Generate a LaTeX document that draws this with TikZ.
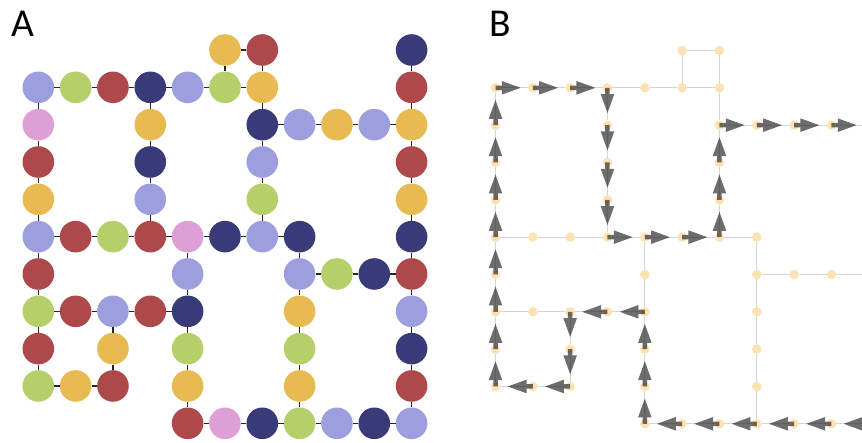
\documentclass[tikz,border=0pt]{standalone}
\usepackage{fontspec}
\setmainfont{Carlito}
\usetikzlibrary{arrows.meta}
\definecolor{cnavy}{HTML}{393B79}
\definecolor{cgreen}{HTML}{B5CF6B}
\definecolor{cyellow}{HTML}{E7BA52}
\definecolor{cred}{HTML}{AD494A}
\definecolor{cpink}{HTML}{DE9ED6}
\definecolor{clav}{HTML}{9C9EDE}
\definecolor{cspot}{HTML}{FFC56A}
% beads: column/row/colour
\newcommand{\beads}{5/0/cyellow, 6/0/cred, 10/0/cnavy,
  0/1/clav, 1/1/cgreen, 2/1/cred, 3/1/cnavy, 4/1/clav, 5/1/cgreen, 6/1/cyellow, 10/1/cred,
  0/2/cpink, 3/2/cyellow, 6/2/cnavy, 7/2/clav, 8/2/cyellow, 9/2/clav, 10/2/cyellow,
  0/3/cred, 3/3/cnavy, 6/3/clav, 10/3/cred,
  0/4/cyellow, 3/4/clav, 6/4/cgreen, 10/4/cyellow,
  0/5/clav, 1/5/cred, 2/5/cgreen, 3/5/cred, 4/5/cpink, 5/5/cnavy, 6/5/clav, 7/5/cnavy, 10/5/cnavy,
  0/6/cred, 4/6/clav, 7/6/clav, 8/6/cgreen, 9/6/cnavy, 10/6/cred,
  0/7/cgreen, 1/7/cred, 2/7/clav, 3/7/cred, 4/7/cnavy, 7/7/cyellow, 10/7/clav,
  0/8/cred, 2/8/cyellow, 4/8/cgreen, 7/8/cgreen, 10/8/cnavy,
  0/9/cgreen, 1/9/cyellow, 2/9/cred, 4/9/cyellow, 7/9/cyellow, 10/9/cred,
  4/10/cred, 5/10/cpink, 6/10/cnavy, 7/10/cgreen, 8/10/clav, 9/10/cnavy, 10/10/clav}
% bonds to the right of / below a bead
\newcommand{\hbonds}{5/0, 0/1, 1/1, 2/1, 3/1, 4/1, 5/1, 6/2, 7/2, 8/2, 9/2,
  0/5, 1/5, 2/5, 3/5, 4/5, 5/5, 6/5, 7/6, 8/6, 9/6, 0/7, 1/7, 2/7, 3/7,
  0/9, 1/9, 4/10, 5/10, 6/10, 7/10, 8/10, 9/10}
\newcommand{\vbonds}{0/1, 0/2, 0/3, 0/4, 0/5, 0/6, 0/7, 0/8, 2/7, 2/8,
  3/1, 3/2, 3/3, 3/4, 4/5, 4/6, 4/7, 4/8, 4/9, 5/0, 6/0, 6/1, 6/2, 6/3, 6/4,
  7/5, 7/6, 7/7, 7/8, 7/9, 10/0, 10/1, 10/2, 10/3, 10/4, 10/5, 10/6, 10/7, 10/8, 10/9}
\tikzset{
  bead/.style={circle, minimum size=31.6pt, inner sep=0pt},
  bond/.style={line width=1.3pt, black!85},
  spot/.style={circle, minimum size=9.5pt, inner sep=0pt, fill=cspot, fill opacity=0.5},
  link/.style={line width=1.1pt, black!17},
  flow/.style={line width=4.5pt, black!88, -{Triangle[length=20pt, width=12pt]}, shorten >=11pt},
  panel/.style={font=\fontsize{39.5}{40}\selectfont, inner sep=0pt, anchor=base west}
}
\begin{document}
\begin{tikzpicture}[x=37.33pt, y=-37.33pt]
  \useasboundingbox (0pt,0pt) rectangle (862pt,-442pt);
  \clip (0pt,0pt) rectangle (862pt,-442pt);
  % Panel labels
  \node[panel] (labA) at (11pt,-36pt) {A};
  \node[panel] (labB) at (489pt,-36pt) {B};
  % A: coloured chain
  \begin{scope}[shift={(38.3pt,-50pt)}]
    \foreach \c/\r/\col in \beads
      \node[bead, fill=\col] (a\c-\r) at (\c,\r) {};
    \foreach \c/\r [evaluate=\c as \d using int(\c+1)] in \hbonds
      \draw[bond] (a\c-\r) -- (a\d-\r);
    \foreach \c/\r [evaluate=\r as \s using int(\r+1)] in \vbonds
      \draw[bond] (a\c-\r) -- (a\c-\s);
  \end{scope}
  % B: same lattice with the traced loop
  \begin{scope}[shift={(495.5pt,-50.5pt)}]
    \foreach \c/\r/\col in \beads
      \node[spot] (b\c-\r) at (\c,\r) {};
    \foreach \c/\r [evaluate=\c as \d using int(\c+1)] in \hbonds
      \draw[link] (b\c-\r) -- (b\d-\r);
    \foreach \c/\r [evaluate=\r as \s using int(\r+1)] in \vbonds
      \draw[link] (b\c-\r) -- (b\c-\s);
    \begin{scope}[transparency group, opacity=0.65]
      \foreach \n [remember=\n as \m (initially 0-1)] in {1-1, 2-1, 3-1, 3-2, 3-3, 3-4, 3-5,
        4-5, 5-5, 6-5, 6-4, 6-3, 6-2, 7-2, 8-2, 9-2, 10-2, 10-3, 10-4, 10-5, 10-6,
        10-7, 10-8, 10-9, 10-10, 9-10, 8-10, 7-10, 6-10, 5-10, 4-10, 4-9, 4-8, 4-7,
        3-7, 2-7, 2-8, 2-9, 1-9, 0-9, 0-8, 0-7, 0-6, 0-5, 0-4, 0-3, 0-2, 0-1}
        \draw[flow] (b\m.center) -- (b\n.center);
    \end{scope}
  \end{scope}
\end{tikzpicture}
\end{document}
